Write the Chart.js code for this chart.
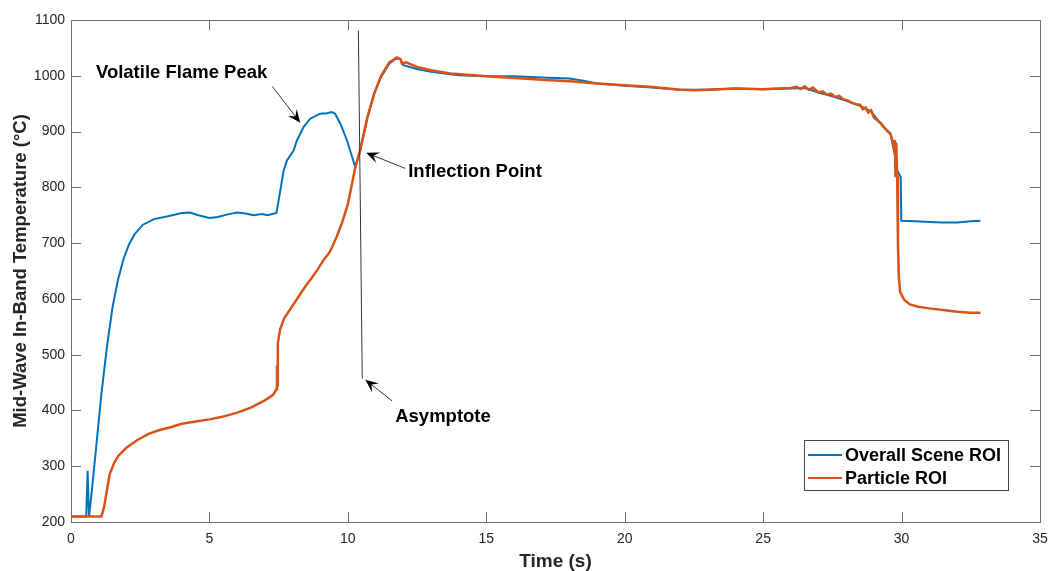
<!DOCTYPE html>
<html>
<head>
<meta charset="utf-8">
<script src="https://cdn.jsdelivr.net/npm/chart.js@4.4.0/dist/chart.umd.min.js"></script>
<style>
  html, body { margin: 0; padding: 0; background: #fff; }
  #wrap { width: 1050px; height: 571px; }
</style>
</head>
<body>
<div id="wrap"><canvas id="chart" width="1050" height="571"></canvas></div>
<script>
// ── Data ────────────────────────────────────────────────────────
const X_TICKS = [0, 5, 10, 15, 20, 25, 30, 35];
const Y_TICKS = [200, 300, 400, 500, 600, 700, 800, 900, 1000, 1100];

// Overall Scene ROI
const sceneT = [0, 0.55, 0.6, 0.65, 0.72, 0.82, 0.93, 1.1, 1.3, 1.5, 1.7, 1.9, 2.1, 2.3, 2.6, 3.0,
  3.5, 4.0, 4.3, 4.6, 5.0, 5.3, 5.7, 6.0, 6.3, 6.6, 6.9, 7.1, 7.42,
  7.56, 7.68, 7.8, 7.92, 8.04, 8.16, 8.4, 8.64, 9.0, 9.25, 9.42, 9.54, 9.73, 9.97, 10.27,
  10.45, 10.7, 10.95, 11.2, 11.5, 11.75, 11.9, 12.0, 12.5, 13, 14, 15, 16, 17, 18, 18.5, 19,
  20, 21, 22, 23, 24, 25, 26, 26.5, 27, 27.6, 28, 28.5, 28.9, 29.25, 29.6, 29.75, 29.85, 29.97,
  29.99, 30.5, 31, 31.5, 32, 32.5, 32.85];
const sceneTemp = [210, 210, 292, 210, 240, 290, 345, 430, 515, 585, 635, 672, 698, 716, 733, 743,
  748, 754, 755, 750, 745, 747, 752, 755, 753, 750, 752, 750, 754,
  794, 830, 848, 857, 866, 884, 908, 923, 932, 933, 935, 932, 914, 884, 836,
  866, 923, 968, 998, 1022, 1031, 1030, 1019, 1012, 1007, 1001, 999, 999, 997, 995, 991, 986,
  982, 979, 975, 975, 977, 976, 977, 978, 970, 962, 955, 946, 936, 914, 896, 860, 830, 818,
  740, 739, 738, 737, 737, 739, 740];

// Particle ROI
const particleT = [0, 1.1, 1.2, 1.3, 1.4, 1.55, 1.7, 2.0, 2.4, 2.8, 3.2, 3.6, 4.0, 4.5, 5.0, 5.5,
  6.0, 6.5, 7.0, 7.3, 7.42, 7.44, 7.45, 7.47, 7.55, 7.7, 7.9, 8.1, 8.3, 8.5, 8.7, 8.9, 9.1,
  9.36, 9.6, 9.8, 10.0, 10.27, 10.45, 10.7, 10.95, 11.2, 11.5, 11.77, 11.9, 11.95, 12.1, 12.5,
  13, 13.7, 15, 16, 17, 18, 19, 20, 21, 22, 22.5, 23, 24, 25, 25.5, 26.0, 26.2, 26.35, 26.5,
  26.65, 26.8, 27.0, 27.15, 27.3, 27.45, 27.6, 27.75, 27.9, 28.05, 28.2, 28.35, 28.5, 28.6,
  28.7, 28.8, 28.9, 29.0, 29.1, 29.25, 29.4, 29.5, 29.6, 29.66, 29.72, 29.76, 29.78, 29.81,
  29.84, 29.87, 29.9, 29.95, 30.1, 30.3, 30.6, 31, 31.5, 32, 32.5, 32.85];
const particleTemp = [210, 210, 228, 258, 286, 305, 318, 333, 347, 358, 365, 370, 376, 380, 384, 389,
  396, 405, 418, 428, 438, 480, 445, 520, 545, 565, 580, 595, 610, 625, 638, 652, 668,
  685, 712, 738, 770, 836, 868, 925, 968, 1000, 1024, 1033, 1030, 1022, 1024, 1016,
  1010, 1004, 999, 996, 993, 990, 986, 983, 980, 975, 974, 975, 977, 976, 977, 978, 980, 976, 981,
  975, 979, 970, 972, 966, 968, 962, 964, 958, 956, 952, 949, 948, 940,
  943, 934, 938, 925, 921, 915, 905, 900, 896, 885, 871, 885, 818, 880,
  820, 700, 640, 612, 598, 590, 586, 583, 580, 577, 575, 575];

// Asymptote guide line (data coords)
const asymT = [10.38, 10.52];
const asymTemp = [1081, 457];

// Annotations: text anchor + arrow tail/head, in data coords
const NOTES = [
  { text: 'Volatile Flame Peak', tx: 0.9,   ty: 1006, from: [7.27, 981],  to: [8.28, 916] },
  { text: 'Inflection Point',    tx: 12.18, ty: 827,  from: [12.07, 834], to: [10.66, 862] },
  { text: 'Asymptote',           tx: 11.71, ty: 389,  from: [11.6, 417],  to: [10.63, 455] },
];

const SERIES_NAMES = ['Overall Scene ROI', 'Particle ROI'];
const BLUE = '#0072BD';
const ORANGE = '#D95319';
const AXIS = '#262626';
const FONT = '"Liberation Sans", Arial, Helvetica, sans-serif';

function pts(xs, ys) {
  return xs.map(function (x, i) { return { x: x, y: ys[i] }; });
}

// ── Draw box, inward ticks, titles, notes, legend ───────────────
const decor = {
  id: 'decor',
  afterDraw: function (chart) {
    const ctx = chart.ctx;
    const a = chart.chartArea;
    const sx = chart.scales.x, sy = chart.scales.y;
    const TL = 10;

    ctx.save();
    ctx.strokeStyle = '#6e6e6e';
    ctx.lineWidth = 1;
    ctx.strokeRect(Math.round(a.left) + 0.5, Math.round(a.top) + 0.5,
      Math.round(a.right - a.left), Math.round(a.bottom - a.top));

    ctx.beginPath();
    X_TICKS.forEach(function (v) {
      const px = Math.round(sx.getPixelForValue(v)) + 0.5;
      ctx.moveTo(px, a.bottom); ctx.lineTo(px, a.bottom - TL);
      ctx.moveTo(px, a.top);    ctx.lineTo(px, a.top + TL);
    });
    Y_TICKS.forEach(function (v) {
      const py = Math.round(sy.getPixelForValue(v)) + 0.5;
      ctx.moveTo(a.left, py);  ctx.lineTo(a.left + TL, py);
      ctx.moveTo(a.right, py); ctx.lineTo(a.right - TL, py);
    });
    ctx.stroke();

    // axis titles
    ctx.fillStyle = AXIS;
    ctx.font = 'bold 19px ' + FONT;
    ctx.textAlign = 'center';
    ctx.textBaseline = 'middle';
    ctx.fillText('Time (s)', (a.left + a.right) / 2, 562);
    ctx.save();
    ctx.translate(21, (a.top + a.bottom) / 2);
    ctx.rotate(-Math.PI / 2);
    ctx.font = 'bold 18.5px ' + FONT;
    ctx.fillText('Mid-Wave In-Band Temperature (°C)', 0, 0);
    ctx.restore();

    // annotations
    NOTES.forEach(function (n) {
      ctx.fillStyle = '#000';
      ctx.font = 'bold 18.5px ' + FONT;
      ctx.textAlign = 'left';
      ctx.textBaseline = 'middle';
      ctx.fillText(n.text, sx.getPixelForValue(n.tx), sy.getPixelForValue(n.ty));

      const x0 = sx.getPixelForValue(n.from[0]), y0 = sy.getPixelForValue(n.from[1]);
      const x1 = sx.getPixelForValue(n.to[0]),   y1 = sy.getPixelForValue(n.to[1]);
      const ang = Math.atan2(y1 - y0, x1 - x0);
      const L = 13, W = 5.5;
      ctx.strokeStyle = '#333';
      ctx.lineWidth = 1;
      ctx.beginPath();
      ctx.moveTo(x0, y0);
      ctx.lineTo(x1 - Math.cos(ang) * 7, y1 - Math.sin(ang) * 7);
      ctx.stroke();
      ctx.save();
      ctx.translate(x1, y1);
      ctx.rotate(ang);
      ctx.fillStyle = '#000';
      ctx.beginPath();
      ctx.moveTo(0, 0);
      ctx.lineTo(-L, -W);
      ctx.lineTo(-L * 0.6, 0);
      ctx.lineTo(-L, W);
      ctx.closePath();
      ctx.fill();
      ctx.restore();
    });

    // legend
    const lx = 804, ly = 440, lw = 204, lh = 50;
    ctx.fillStyle = '#fff';
    ctx.fillRect(lx, ly, lw, lh);
    ctx.strokeStyle = '#444';
    ctx.lineWidth = 1;
    ctx.strokeRect(lx + 0.5, ly + 0.5, lw, lh);
    [BLUE, ORANGE].forEach(function (c, i) {
      const yy = ly + 15 + i * 23;
      ctx.strokeStyle = c;
      ctx.lineWidth = 2;
      ctx.beginPath();
      ctx.moveTo(lx + 4, yy); ctx.lineTo(lx + 38, yy);
      ctx.stroke();
      ctx.fillStyle = '#000';
      ctx.font = 'bold 18px ' + FONT;
      ctx.textAlign = 'left';
      ctx.textBaseline = 'middle';
      ctx.fillText(SERIES_NAMES[i], lx + 41, yy + 1);
    });
    ctx.restore();
  }
};

new Chart(document.getElementById('chart'), {
  type: 'line',
  data: {
    datasets: [
      {
        label: SERIES_NAMES[0],
        data: pts(sceneT, sceneTemp),
        borderColor: BLUE,
        borderWidth: 2,
        pointRadius: 0,
        tension: 0,
        order: 3,
      },
      {
        label: SERIES_NAMES[1],
        data: pts(particleT, particleTemp),
        borderColor: ORANGE,
        borderWidth: 2.5,
        pointRadius: 0,
        tension: 0,
        order: 2,
      },
      {
        label: 'Asymptote',
        data: pts(asymT, asymTemp),
        borderColor: '#333',
        borderWidth: 1,
        pointRadius: 0,
        tension: 0,
        order: 1,
      }
    ]
  },
  options: {
    responsive: false,
    animation: false,
    devicePixelRatio: 1,
    layout: { padding: { top: 20, right: 10, left: 0, bottom: 0 } },
    plugins: {
      legend: { display: false },
      tooltip: { enabled: false },
    },
    scales: {
      x: {
        type: 'linear',
        min: 0, max: 35,
        afterBuildTicks: function (s) { s.ticks = X_TICKS.map(function (v) { return { value: v }; }); },
        afterFit: function (s) { s.height = 49; s.paddingLeft = 0; s.paddingRight = 0; },
        grid: { display: false, drawTicks: false, tickLength: 0 },
        border: { display: false },
        ticks: { color: AXIS, font: { family: FONT, size: 14 }, padding: 9, maxRotation: 0,
          callback: function (v) { return String(v); } },
      },
      y: {
        type: 'linear',
        min: 200, max: 1100,
        afterBuildTicks: function (s) { s.ticks = Y_TICKS.map(function (v) { return { value: v }; }); },
        afterFit: function (s) { s.width = 71; s.paddingTop = 0; s.paddingBottom = 0; },
        grid: { display: false, drawTicks: false, tickLength: 0 },
        border: { display: false },
        ticks: { color: AXIS, font: { family: FONT, size: 14 }, padding: 6,
          callback: function (v) { return String(v); } },
      }
    }
  },
  plugins: [decor]
});
</script>
</body>
</html>
